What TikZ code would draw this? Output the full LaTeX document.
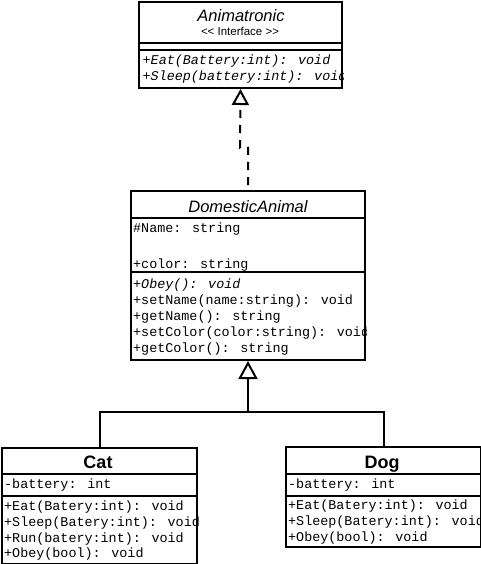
\documentclass[tikz,border=0pt]{standalone}
\usepackage{fontspec}
\setmainfont{Liberation Sans}
\newfontfamily\membfont{Liberation Mono}
\usetikzlibrary{arrows.meta}

\tikzset{
  classbox/.style={draw, line width=2pt, anchor=north west, inner sep=0pt},
  divider/.style={line width=1.6pt},
  member/.style={anchor=base west, inner sep=0pt, font=\membfont\fontsize{13.4}{16}\selectfont},
  abstractmember/.style={member, font=\membfont\fontsize{13.4}{16}\selectfont\itshape},
  abstracttitle/.style={anchor=base, inner sep=0pt, font=\fontsize{16.5}{18}\selectfont\itshape},
  classtitle/.style={anchor=base, inner sep=0pt, font=\fontsize{18}{20}\selectfont\bfseries},
  stereotype/.style={anchor=base, inner sep=0pt, font=\fontsize{11.5}{13}\selectfont},
  realize/.style={line width=2pt, dash pattern=on 8pt off 7pt, dash phase=10pt, -{Triangle[open, length=16pt, width=17pt]}},
  inherit/.style={line width=2pt},
}

\begin{document}
\begin{tikzpicture}[x=1pt, y=-1pt]
  \path[fill=white, use as bounding box] (0,0) rectangle (481,564);
  % class boxes
  \begin{scope}[every node/.style={classbox}]
    \node[minimum width=203pt, minimum height=86pt] (anim) at (138,1) {};
    \node[minimum width=234pt, minimum height=169pt] (domestic) at (130,190) {};
    \node[minimum width=195pt, minimum height=116pt] (cat) at (1,447) {};
    \node[minimum width=195pt, minimum height=100pt] (dog) at (285,446) {};
  \end{scope}
  \begin{scope}[divider]
    \draw ([yshift=-42pt]anim.north west) -- ([yshift=-42pt]anim.north east);
    \draw ([yshift=-49pt]anim.north west) -- ([yshift=-49pt]anim.north east);
    \draw ([yshift=-28pt]domestic.north west) -- ([yshift=-28pt]domestic.north east);
    \draw ([yshift=-82pt]domestic.north west) -- ([yshift=-82pt]domestic.north east);
    \draw ([yshift=-27pt]cat.north west) -- ([yshift=-27pt]cat.north east);
    \draw ([yshift=-49pt]cat.north west) -- ([yshift=-49pt]cat.north east);
    \draw ([yshift=-28pt]dog.north west) -- ([yshift=-28pt]dog.north east);
    \draw ([yshift=-50pt]dog.north west) -- ([yshift=-50pt]dog.north east);
  \end{scope}

  % Animatronic
  \begin{scope}
    \clip (anim.north west) rectangle (anim.south east);
    \node[abstracttitle] (animT) at (241,22) {Animatronic};
    \node[stereotype] (animS) at (240,36) {<{}< Interface >{}>};
    \node[abstractmember] (animEat) at (142.5,65) {+Eat(Battery:int): void};
    \node[abstractmember] (animSleep) at (142.5,81) {+Sleep(battery:int): void};
  \end{scope}

  % DomesticAnimal
  \begin{scope}
    \clip (domestic.north west) rectangle (domestic.south east);
    \node[abstracttitle] (domT) at (248,212) {DomesticAnimal};
    \node[member] (domName) at (133,232) {\#Name: string};
    \node[member] (domColor) at (133,268) {+color: string};
    \node[abstractmember] (domObey) at (133,288) {+Obey(): void};
    \node[member] (domSetName) at (133,304) {+setName(name:string): void};
    \node[member] (domGetName) at (133,320) {+getName(): string};
    \node[member] (domSetColor) at (133,336) {+setColor(color:string): void};
    \node[member] (domGetColor) at (133,352) {+getColor(): string};
  \end{scope}

  % Cat
  \begin{scope}
    \clip (cat.north west) rectangle (cat.south east);
    \node[classtitle] (catT) at (98,468) {Cat};
    \node[member] (catBattery) at (4,488) {-battery: int};
    \node[member] (catEat) at (4,510) {+Eat(Batery:int): void};
    \node[member] (catSleep) at (4,526) {+Sleep(Batery:int): void};
    \node[member] (catRun) at (4,542) {+Run(batery:int): void};
    \node[member] (catObey) at (4,557) {+Obey(bool): void};
  \end{scope}

  % Dog
  \begin{scope}
    \clip (dog.north west) rectangle (dog.south east);
    \node[classtitle] (dogT) at (382,468) {Dog};
    \node[member] (dogBattery) at (288,488) {-battery: int};
    \node[member] (dogEat) at (288,509) {+Eat(Batery:int): void};
    \node[member] (dogSleep) at (288,525) {+Sleep(Batery:int): void};
    \node[member] (dogObey) at (288,541) {+Obey(bool): void};
  \end{scope}

  % connectors
  \coordinate (jog) at (240,148);
  \draw[realize] (domestic.north) |- (jog) -- (anim.south);
  \coordinate (join) at ([yshift=-51pt]domestic.south);
  \draw[inherit] (cat.north) |- (join) -| (dog.north);
  \draw[inherit, -{Triangle[open, length=18pt, width=19pt]}] (join) -- (domestic.south);
\end{tikzpicture}
\end{document}
